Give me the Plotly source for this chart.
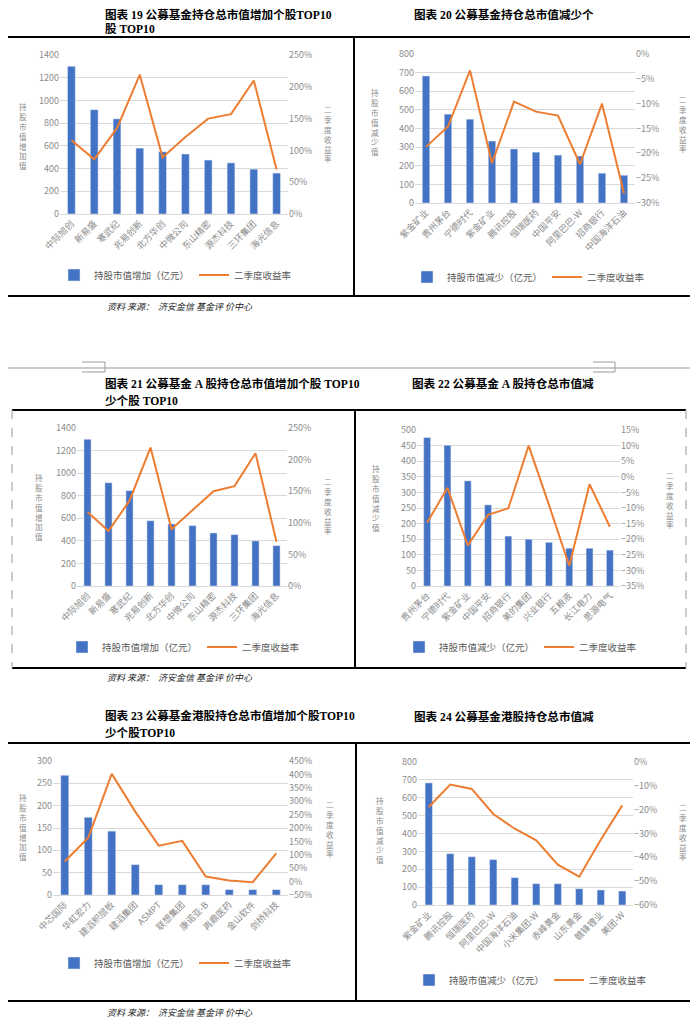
import plotly.graph_objects as go

# the page body keeps its default 8px margin, so the figure is drawn 8px smaller
OFF = 8
W, H = 698 - OFF, 1024 - OFF

# 图表19 公募基金持仓总市值增加个股TOP10
c19_names = ['中际旭创', '新易盛', '寒武纪', '兆易创新', '北方华创', '中微公司', '东山精密', '源杰科技', '三环集团', '海光信息']
c19_value = [1300, 918, 838, 580, 548, 528, 475, 450, 395, 360]
c19_ret = [1.16, 0.86, 1.35, 2.19, 0.89, 1.21, 1.50, 1.57, 2.10, 0.70]

# 图表20 公募基金持仓总市值减少个股TOP10
c20_names = ['紫金矿业', '贵州茅台', '宁德时代', '紫金矿业', '腾讯控股', '恒瑞医药', '中国平安', '阿里巴巴-W', '招商银行', '中国海洋石油']
c20_value = [682, 477, 450, 333, 290, 273, 257, 252, 160, 149]
c20_ret = [-0.187, -0.146, -0.033, -0.220, -0.096, -0.116, -0.124, -0.222, -0.100, -0.281]

# 图表21 公募基金A股持仓总市值增加个股TOP10
c21_names = ['中际旭创', '新易盛', '寒武纪', '兆易创新', '北方华创', '中微公司', '东山精密', '源杰科技', '三环集团', '海光信息']
c21_value = [1300, 915, 845, 578, 550, 535, 470, 455, 400, 358]
c21_ret = [1.17, 0.87, 1.35, 2.19, 0.90, 1.20, 1.50, 1.58, 2.10, 0.70]

# 图表22 公募基金A股持仓总市值减少个股TOP10
c22_names = ['贵州茅台', '宁德时代', '紫金矿业', '中国平安', '招商银行', '美的集团', '兴业银行', '五粮液', '长江电力', '思源电气']
c22_value = [476, 451, 337, 260, 160, 150, 140, 121, 121, 115]
c22_ret = [-0.147, -0.035, -0.220, -0.122, -0.101, 0.100, -0.090, -0.285, -0.024, -0.160]

# 图表23 公募基金港股持仓总市值增加个股TOP10
c23_names = ['中芯国际', '华虹宏力', '建滔积层板', '建滔集团', 'ASMPT', '联想集团', '康诺亚-B', '再鼎医药', '金山软件', '剑桥科技']
c23_value = [268, 174, 143, 68, 23, 23, 23, 12, 12, 12]
c23_ret = [0.75, 1.64, 4.02, 2.61, 1.34, 1.52, 0.19, 0.045, -0.02, 1.05]

# 图表24 公募基金港股持仓总市值减少个股TOP10
c24_names = ['紫金矿业', '腾讯控股', '恒瑞医药', '阿里巴巴-W', '中国海洋石油', '小米集团-W', '赤峰黄金', '山东黄金', '赣锋锂业', '美团-W']
c24_value = [683, 287, 270, 254, 153, 119, 119, 91, 84, 78]
c24_ret = [-0.189, -0.095, -0.113, -0.218, -0.280, -0.329, -0.431, -0.481, -0.326, -0.182]

UP = '持股市值增加（亿元）'
DOWN = '持股市值减少（亿元）'
RET = '二季度收益率'
SOURCE = '资料 来源：  济安金信 基金评 价中心'

# yt / rt: centre of the stacked axis titles (left, right)
charts = [
    dict(names=c19_names, value=c19_value, ret=c19_ret, bar=UP, ytitle='持股市值增加值',
         dx=(60, 288), dy=(55, 214), yr=[0, 1400], yd=200, rr=[0, 2.5], rd=0.5,
         yt=(23, 136), rt=(328, 134), leg=(54, 275)),
    dict(names=c20_names, value=c20_value, ret=c20_ret, bar=DOWN, ytitle='持股市值减少值',
         dx=(415, 635), dy=(54, 203), yr=[0, 800], yd=100, rr=[-0.3, 0], rd=0.05,
         yt=(375, 122), rt=(683, 124), leg=(407, 277)),
    dict(names=c21_names, value=c21_value, ret=c21_ret, bar=UP, ytitle='持股市值增加值',
         dx=(77, 287), dy=(428, 586), yr=[0, 1400], yd=200, rr=[0, 2.5], rd=0.5,
         yt=(39, 507), rt=(328, 506), leg=(62, 647)),
    dict(names=c22_names, value=c22_value, ret=c22_ret, bar=DOWN, ytitle='持股市值减少值',
         dx=(417, 620), dy=(430, 586), yr=[0, 500], yd=50, rr=[-0.35, 0.15], rd=0.05,
         yt=(376, 498), rt=(670, 500), leg=(399, 647)),
    dict(names=c23_names, value=c23_value, ret=c23_ret, bar=UP, ytitle='持股市值增加值',
         dx=(53, 288), dy=(761, 895), yr=[0, 300], yd=50, rr=[-0.5, 4.5], rd=0.5,
         yt=(23, 827), rt=(330, 829), leg=(54, 963)),
    dict(names=c24_names, value=c24_value, ret=c24_ret, bar=DOWN, ytitle='持股市值减少值',
         dx=(418, 633), dy=(762, 905), yr=[0, 800], yd=100, rr=[-0.6, 0], rd=0.1,
         yt=(380, 830), rt=(683, 832), leg=(409, 980)),
]

FONT = 'Noto Sans CJK SC'
GRAY = '#8c8c8c'
GRID = '#d9d9d9'


def fx(x):
    return (x - OFF) / W


def fy(y):
    return 1 - (y - OFF) / H


fig = go.Figure()
layout = {}
annotations = []
shapes = []

for i, c in enumerate(charts, start=1):
    xa = 'x' if i == 1 else f'x{i}'
    yl = f'y{2 * i - 1}'
    yr = f'y{2 * i}'
    leg = 'legend' if i == 1 else f'legend{i}'
    pos = list(range(len(c['names'])))

    fig.add_trace(go.Bar(x=pos, y=c['value'], name=c['bar'], marker_color='#4472C4',
                         width=0.34, xaxis=xa, yaxis=yl, legend=leg))
    fig.add_trace(go.Scatter(x=pos, y=c['ret'], name=RET, mode='lines',
                             line=dict(color='#ED7D31', width=2), xaxis=xa, yaxis=yr, legend=leg))

    xkey = 'xaxis' if i == 1 else f'xaxis{i}'
    layout[xkey] = dict(domain=[fx(c['dx'][0]), fx(c['dx'][1])], anchor=yl, automargin=False,
                        range=[-0.5, len(pos) - 0.5], tickvals=pos, ticktext=c['names'],
                        tickangle=-45, tickfont=dict(size=9, color=GRAY), showgrid=False,
                        showline=True, linecolor=GRID, linewidth=1, ticks='', zeroline=False)
    lkey = 'yaxis' if i == 1 else f'yaxis{2 * i - 1}'
    layout[lkey] = dict(domain=[fy(c['dy'][1]), fy(c['dy'][0])], anchor=xa, automargin=False,
                        range=c['yr'], dtick=c['yd'], tickfont=dict(size=9, color=GRAY),
                        showgrid=True, gridcolor=GRID, gridwidth=1, zeroline=False,
                        showline=False, ticks='')
    layout[f'yaxis{2 * i}'] = dict(overlaying=yl, side='right', anchor=xa, automargin=False,
                                   range=c['rr'], dtick=c['rd'], tickformat='.0%',
                                   tickfont=dict(size=9, color=GRAY), showgrid=False,
                                   zeroline=False, showline=False, ticks='')
    layout[leg] = dict(x=fx(c['leg'][0]), y=fy(c['leg'][1]), xanchor='left', yanchor='middle',
                       orientation='h', font=dict(size=9.5, color='#595959', family=FONT),
                       bgcolor='rgba(0,0,0,0)', itemwidth=30, tracegroupgap=0)

    # vertical axis titles, one character per line
    for (tx, ty), txt in ((c['yt'], c['ytitle']), (c['rt'], RET)):
        annotations.append(dict(x=fx(tx), y=fy(ty), text='<br>'.join(txt),
                                showarrow=False, xref='paper', yref='paper',
                                xanchor='center', yanchor='middle',
                                font=dict(size=7.6, color='#8c8c8c', family=FONT)))

# section titles
TFONT = dict(size=11.6, color='#000000', family='Liberation Serif, ' + FONT)
titles = [
    (103, 15, '<b>图表 19 公募基金持仓总市值增加个股TOP10</b>'),
    (103, 30, '<b>股 TOP10</b>'),
    (412, 15, '<b>图表 20 公募基金持仓总市值减少个</b>'),
    (103, 384, '<b>图表 21 公募基金 A 股持仓总市值增加个股 TOP10</b>'),
    (103, 401, '<b>少个股 TOP10</b>'),
    (410, 384, '<b>图表 22 公募基金 A 股持仓总市值减</b>'),
    (103, 716, '<b>图表 23 公募基金港股持仓总市值增加个股TOP10</b>'),
    (103, 733, '<b>少个股TOP10</b>'),
    (412, 717, '<b>图表 24 公募基金港股持仓总市值减</b>'),
]
for x, y, t in titles:
    annotations.append(dict(x=fx(x), y=fy(y), text=t, showarrow=False, xref='paper', yref='paper',
                            xanchor='left', yanchor='middle', font=TFONT))

for y in (307, 677, 1012):
    annotations.append(dict(x=fx(105), y=fy(y), text='<i>' + SOURCE + '</i>',
                            showarrow=False, xref='paper', yref='paper', xanchor='left',
                            yanchor='middle', font=dict(size=9, color='#222222', family=FONT)))


def line(x0, y0, x1, y1, color='#000000', width=2, dash='solid'):
    shapes.append(dict(type='line', xref='paper', yref='paper', x0=fx(x0), y0=fy(y0),
                       x1=fx(x1), y1=fy(y1), line=dict(color=color, width=width, dash=dash)))


# row 1 frame
line(0, 37, 698, 37)
line(0, 296, 698, 296)
line(354, 37, 354, 296)
# page separator
line(0, 368, 698, 368, color='#999999', width=1)
for a, b in ((82, 105), (593, 615)):
    line(a, 362, b, 362, color='#999999', width=1)
    line(a, 372, b, 372, color='#999999', width=1)
    line(b, 362, b, 372, color='#999999', width=1)
# row 2 frame
line(12, 410, 686, 410)
line(12, 668, 686, 668)
line(355, 410, 355, 668)
line(12, 410, 12, 668, color='#bbbbbb', width=1.5, dash='dash')
line(686, 410, 686, 668, color='#bbbbbb', width=1.5, dash='dash')
# row 3 frame
line(0, 743, 698, 743)
line(0, 1001, 698, 1001)
line(356, 743, 356, 1001)

fig.update_layout(**layout)
fig.update_layout(width=W, height=H, margin=dict(l=0, r=0, t=0, b=0, autoexpand=False),
                  paper_bgcolor='white', plot_bgcolor='white',
                  font=dict(family=FONT, color=GRAY), bargap=0.66,
                  annotations=annotations, shapes=shapes)

fig.write_html("out.html")
